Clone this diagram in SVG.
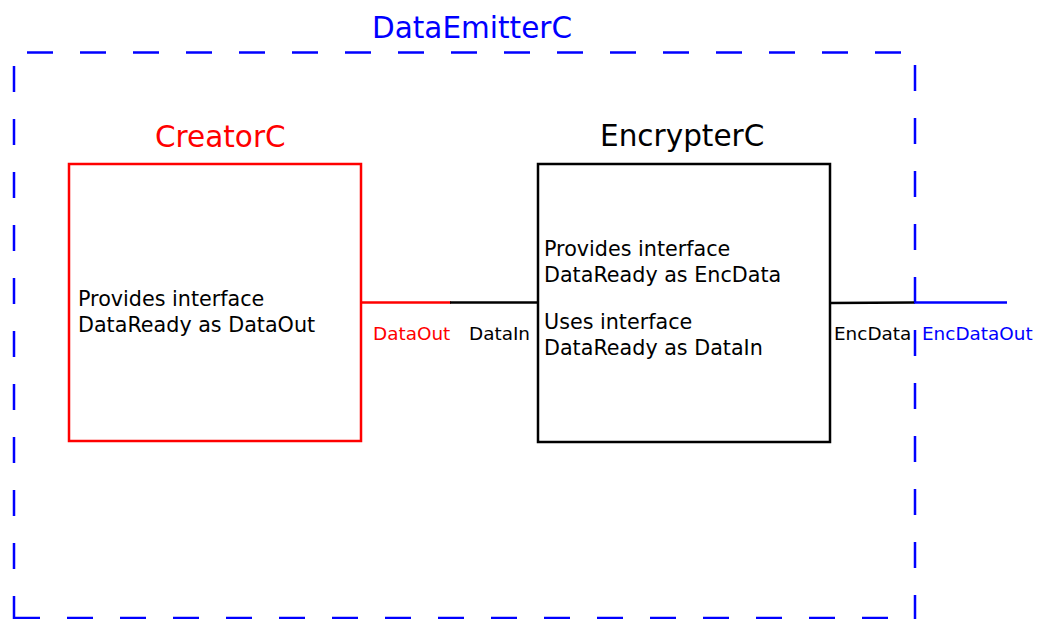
<svg xmlns="http://www.w3.org/2000/svg" width="1038" height="619" viewBox="0 0 1038 619">
  <style>
    text { font-family: "DejaVu Sans", Verdana, sans-serif; }
    .title { font-size: 29.5px; }
    .body { font-size: 20.7px; fill: #000; }
    .port { font-size: 18.4px; }
    .blue { fill: #0000ff; }
    .red { fill: #ff0000; }
    .black { fill: #000; }
    .frame { fill: none; stroke: #0000ff; stroke-width: 2.5; stroke-dasharray: 26 27; }
    .box { fill: none; stroke-width: 2.5; }
    .wire { fill: none; stroke-width: 2.5; }
  </style>

  <!-- composite component boundary -->
  <g id="DataEmitterC">
    <line class="frame" x1="27" y1="52.5" x2="901" y2="52.5"/>
    <line class="frame" x1="14" y1="66" x2="14" y2="619"/>
    <line class="frame" x1="915" y1="65" x2="915" y2="619"/>
    <line class="frame" x1="14" y1="618" x2="888" y2="618"/>
    <text class="title blue" x="372" y="38">DataEmitterC</text>
  </g>

  <g id="CreatorC">
    <rect class="box" x="69" y="164" width="292" height="277" stroke="#ff0000"/>
    <text class="title red" x="155" y="147">CreatorC</text>
    <text class="body" x="78" y="306">Provides interface</text>
    <text class="body" x="78" y="332">DataReady as DataOut</text>
  </g>

  <g id="EncrypterC">
    <rect class="box" x="538" y="164" width="292" height="278" stroke="#000"/>
    <text class="title black" x="600" y="146">EncrypterC</text>
    <text class="body" x="544" y="256">Provides interface</text>
    <text class="body" x="544" y="282">DataReady as EncData</text>
    <text class="body" x="544" y="329">Uses interface</text>
    <text class="body" x="544" y="355">DataReady as DataIn</text>
  </g>

  <g id="connectors">
    <line class="wire" x1="362" y1="302.5" x2="451" y2="302.5" stroke="#ff0000"/>
    <line class="wire" x1="450" y1="302.5" x2="538" y2="302.5" stroke="#000"/>
    <line class="wire" x1="830" y1="303" x2="915" y2="302.5" stroke="#000"/>
    <line class="wire" x1="914" y1="302.5" x2="1007" y2="302.5" stroke="#0000ff"/>
    <text class="port red" x="373" y="340">DataOut</text>
    <text class="port black" x="469" y="340">DataIn</text>
    <text class="port black" x="834" y="340">EncData</text>
    <text class="port blue" x="922" y="340">EncDataOut</text>
  </g>
</svg>
